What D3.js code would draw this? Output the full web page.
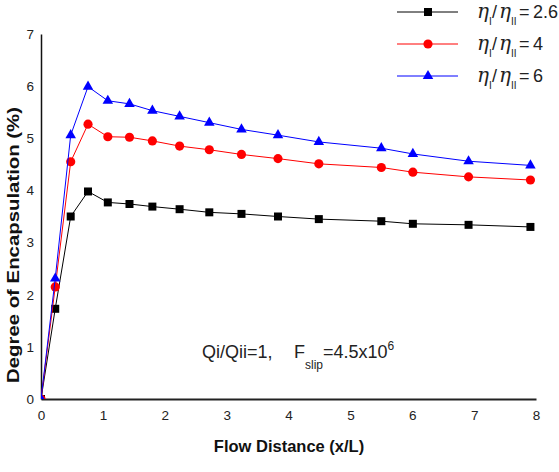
<!DOCTYPE html>
<html>
<head>
<meta charset="utf-8">
<script src="https://cdn.jsdelivr.net/npm/d3@7"></script>
<style>
  body { margin: 0; background: #fff; }
  svg { display: block; font-family: "Liberation Sans", Arial, sans-serif; }
</style>
</head>
<body>
<div id="chart"></div>
<script>
// Flow distance (x/L) sampled along the channel
const distance = [0, 0.23, 0.48, 0.76, 1.08, 1.43, 1.80, 2.24, 2.72, 3.24, 3.83, 4.49, 5.50, 6.01, 6.91, 7.91];

// Degree of encapsulation (%) for each viscosity ratio
const ratio26 = [0, 1.73, 3.50, 3.98, 3.77, 3.74, 3.69, 3.64, 3.58, 3.55, 3.50, 3.45, 3.41, 3.36, 3.34, 3.30];
const ratio4  = [0, 2.15, 4.55, 5.27, 5.03, 5.02, 4.95, 4.85, 4.78, 4.69, 4.61, 4.51, 4.44, 4.35, 4.26, 4.20];
const ratio6  = [0, 2.31, 5.06, 5.99, 5.72, 5.66, 5.53, 5.42, 5.30, 5.17, 5.06, 4.93, 4.81, 4.70, 4.56, 4.48];

const xTicks = [0, 1, 2, 3, 4, 5, 6, 7, 8];
const yTicks = [0, 1, 2, 3, 4, 5, 6, 7];

const series = [
    { label: '2.6', values: ratio26, color: '#000000', symbol: d3.symbolSquare, size: 64 },
    { label: '4',   values: ratio4,  color: '#ff0000', symbol: d3.symbolCircle, size: 66 },
    { label: '6',   values: ratio6,  color: '#0000ff', symbol: d3.symbolTriangle, size: 48 }
];

const width = 559, height = 472;
const svg = d3.select('#chart').append('svg')
    .attr('width', width)
    .attr('height', height);

const x = d3.scaleLinear().domain([0, 8]).range([41, 536]);
const y = d3.scaleLinear().domain([0, 7]).range([399, 34]);

// clip so markers at the origin are cut by the axes
svg.append('defs').append('clipPath').attr('id', 'plot-clip')
    .append('rect')
    .attr('x', x(0)).attr('y', y(7) - 10)
    .attr('width', x(8) - x(0) + 10).attr('height', y(0) - y(7) + 10);

// Axes (no tick marks, just labels)
const xAxis = svg.append('g')
    .attr('transform', `translate(0,${y(0)})`)
    .call(d3.axisBottom(x).tickValues(xTicks).tickFormat(d3.format('d')).tickSize(0).tickPadding(11));
xAxis.select('.domain').attr('stroke', '#222').attr('stroke-width', 2);

const yAxis = svg.append('g')
    .attr('transform', `translate(${x(0)},0)`)
    .call(d3.axisLeft(y).tickValues(yTicks).tickFormat(d3.format('d')).tickSize(0).tickPadding(7));
yAxis.select('.domain').attr('stroke', '#111').attr('stroke-width', 1.5);

svg.selectAll('.tick text')
    .attr('font-family', '"Liberation Sans", Arial, sans-serif')
    .attr('font-size', 13.5)
    .attr('fill', '#222');

// Axis titles
svg.append('text')
    .attr('x', 289).attr('y', 452)
    .attr('text-anchor', 'middle')
    .attr('font-size', 16.5).attr('font-weight', 'bold')
    .attr('fill', '#111')
    .text('Flow Distance (x/L)');

svg.append('text')
    .attr('transform', 'translate(19,245) rotate(-90)')
    .attr('text-anchor', 'middle')
    .attr('font-size', 16.5).attr('font-weight', 'bold')
    .attr('fill', '#111')
    .attr('textLength', 276).attr('lengthAdjust', 'spacingAndGlyphs')
    .text('Degree of Encapsulation (%)');

// Lines and markers
const line = d3.line()
    .x((d, i) => x(distance[i]))
    .y(d => y(d));

const plot = svg.append('g').attr('clip-path', 'url(#plot-clip)');

series.forEach(s => {
    plot.append('path')
        .datum(s.values)
        .attr('fill', 'none')
        .attr('stroke', s.color)
        .attr('stroke-width', 1)
        .attr('d', line);

    plot.selectAll(null)
        .data(s.values)
        .enter()
        .append('path')
        .attr('d', d3.symbol().type(s.symbol).size(s.size))
        .attr('transform', (d, i) => `translate(${x(distance[i])},${y(d)})`)
        .attr('fill', s.color);
});

// Legend
const legend = svg.append('g');
series.forEach((s, i) => {
    const ly = 12 + i * 32;
    legend.append('line')
        .attr('x1', 397).attr('x2', 458)
        .attr('y1', ly).attr('y2', ly)
        .attr('stroke', s.color).attr('stroke-width', 1);
    legend.append('path')
        .attr('d', d3.symbol().type(s.symbol).size(s.size))
        .attr('transform', `translate(428,${ly})`)
        .attr('fill', s.color);

    const t = legend.append('text')
        .attr('x', 477).attr('y', ly + 6)
        .attr('font-size', 18).attr('fill', '#222');
    t.append('tspan').attr('font-style', 'italic').attr('font-size', 20)
        .attr('font-family', '"DejaVu Serif", serif').text('η');
    t.append('tspan').attr('font-size', 10).attr('dy', 7).text('I');
    t.append('tspan').attr('dy', -7).attr('x', 492).text('/');
    t.append('tspan').attr('font-style', 'italic').attr('font-size', 20)
        .attr('x', 499).attr('font-family', '"DejaVu Serif", serif').text('η');
    t.append('tspan').attr('font-size', 10).attr('dy', 7).text('II');
    t.append('tspan').attr('dy', -7).attr('x', 519).text('=');
    t.append('tspan').attr('x', 533).text(s.label);
});

// Condition annotation
const note = svg.append('text')
    .attr('x', 202).attr('y', 358)
    .attr('font-size', 18).attr('fill', '#222');
note.append('tspan').text('Qi/Qii=1,');
note.append('tspan').attr('x', 294).text('F');
note.append('tspan').attr('font-size', 12).attr('dy', 11).text('slip');
note.append('tspan').attr('dy', -11).text('=4.5x10');
note.append('tspan').attr('font-size', 12).attr('dy', -8).text('6');
</script>
</body>
</html>
